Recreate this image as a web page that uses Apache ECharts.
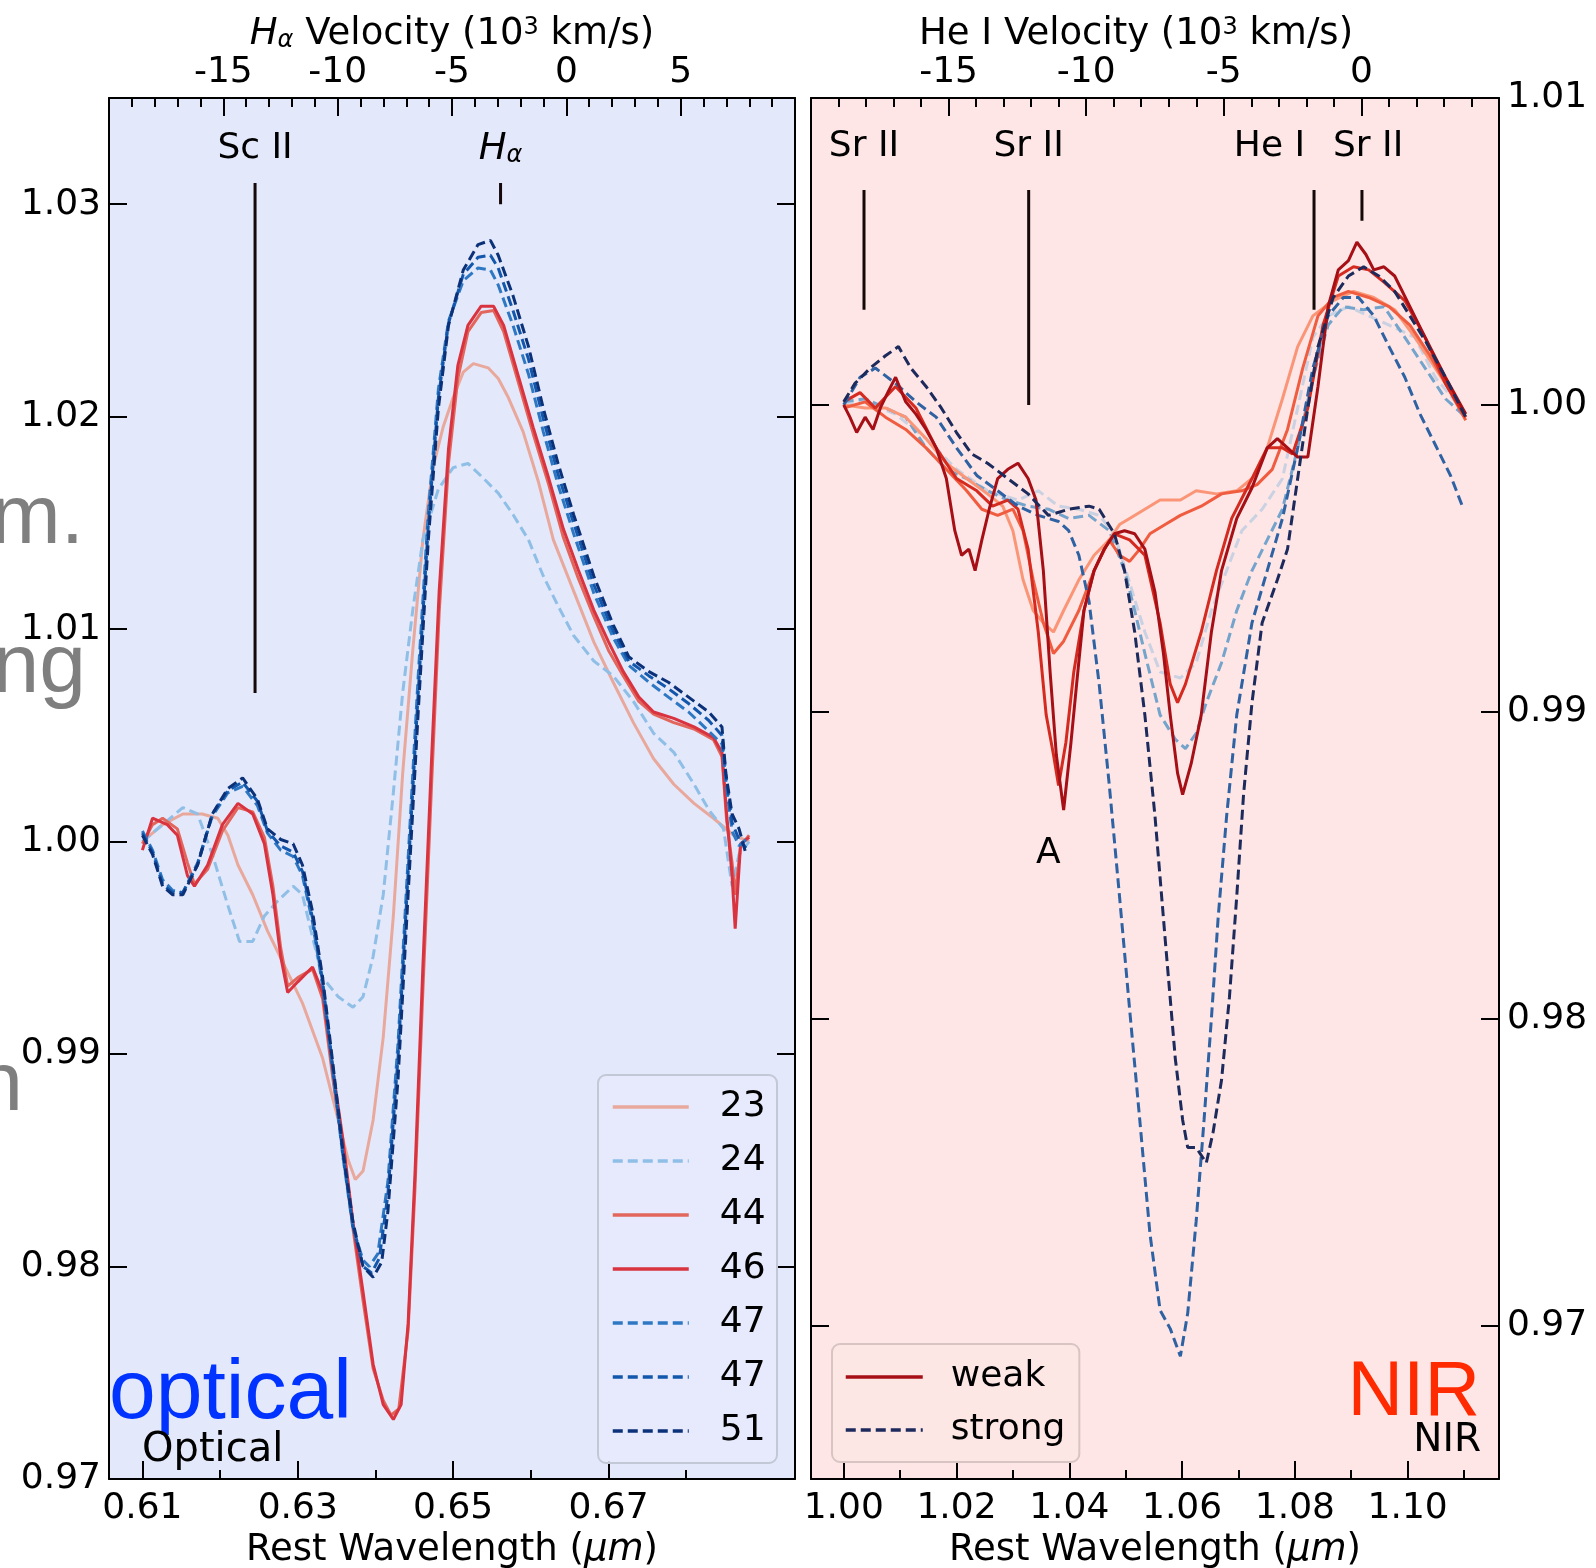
<!DOCTYPE html>
<html>
<head>
<meta charset="utf-8">
<title>Optical / NIR spectra</title>
<script src="https://cdn.jsdelivr.net/npm/echarts@6.0.0/dist/echarts.min.js"></script>
<style>
  html, body { margin: 0; padding: 0; background: #fff; }
  #main { width: 1596px; height: 1568px; }
</style>
</head>
<body>
<div id="main"></div>
<script>
// ---- optical panel (wavelength um, normalised flux) ----
const s23 = [[0.6100,1.0000],[0.6126,1.0008],[0.6152,1.0013],[0.6177,1.0013],[0.6197,1.0011],[0.6210,1.0003],[0.6223,0.9989],[0.6242,0.9975],[0.6261,0.9958],[0.6281,0.9943],[0.6306,0.9924],[0.6332,0.9898],[0.6352,0.9869],[0.6365,0.9850],[0.6374,0.9841],[0.6384,0.9845],[0.6397,0.9869],[0.6410,0.9908],[0.6423,0.9965],[0.6435,1.0032],[0.6448,1.0090],[0.6461,1.0142],[0.6474,1.0176],[0.6487,1.0195],[0.6500,1.0209],[0.6513,1.0221],[0.6526,1.0225],[0.6545,1.0223],[0.6558,1.0218],[0.6571,1.0209],[0.6590,1.0193],[0.6610,1.0169],[0.6629,1.0142],[0.6655,1.0118],[0.6681,1.0094],[0.6706,1.0075],[0.6732,1.0056],[0.6758,1.0039],[0.6784,1.0027],[0.6810,1.0018],[0.6835,1.0011],[0.6861,1.0003],[0.6881,1.0000]];
const s24 = [[0.6100,1.0000],[0.6126,1.0008],[0.6152,1.0016],[0.6171,1.0013],[0.6190,0.9994],[0.6210,0.9970],[0.6225,0.9953],[0.6242,0.9953],[0.6257,0.9965],[0.6274,0.9972],[0.6294,0.9979],[0.6306,0.9975],[0.6319,0.9955],[0.6332,0.9936],[0.6352,0.9927],[0.6371,0.9922],[0.6384,0.9927],[0.6397,0.9946],[0.6410,0.9975],[0.6423,1.0023],[0.6435,1.0070],[0.6448,1.0109],[0.6461,1.0142],[0.6481,1.0166],[0.6500,1.0176],[0.6519,1.0178],[0.6539,1.0171],[0.6558,1.0164],[0.6577,1.0154],[0.6597,1.0142],[0.6616,1.0125],[0.6635,1.0111],[0.6655,1.0097],[0.6681,1.0085],[0.6706,1.0078],[0.6732,1.0066],[0.6758,1.0051],[0.6784,1.0042],[0.6810,1.0027],[0.6829,1.0015],[0.6848,1.0006],[0.6859,0.9979],[0.6868,0.9994],[0.6881,1.0000]];
const s44 = [[0.6100,0.9999],[0.6113,1.0008],[0.6126,1.0011],[0.6145,1.0006],[0.6158,0.9990],[0.6167,0.9980],[0.6184,0.9987],[0.6203,1.0005],[0.6223,1.0016],[0.6242,1.0014],[0.6257,1.0002],[0.6268,0.9979],[0.6278,0.9950],[0.6287,0.9932],[0.6300,0.9936],[0.6319,0.9940],[0.6332,0.9926],[0.6345,0.9889],[0.6358,0.9855],[0.6371,0.9818],[0.6384,0.9784],[0.6397,0.9752],[0.6410,0.9737],[0.6420,0.9730],[0.6430,0.9733],[0.6442,0.9770],[0.6451,0.9838],[0.6461,0.9930],[0.6472,1.0025],[0.6482,1.0108],[0.6494,1.0178],[0.6506,1.0218],[0.6519,1.0240],[0.6536,1.0249],[0.6552,1.0250],[0.6565,1.0240],[0.6584,1.0216],[0.6603,1.0192],[0.6623,1.0168],[0.6642,1.0143],[0.6661,1.0124],[0.6681,1.0106],[0.6700,1.0090],[0.6719,1.0078],[0.6739,1.0066],[0.6758,1.0060],[0.6784,1.0056],[0.6810,1.0053],[0.6835,1.0048],[0.6846,1.0040],[0.6852,1.0010],[0.6859,0.9990],[0.6863,0.9975],[0.6870,0.9998],[0.6881,1.0003]];
const s46 = [[0.6100,0.9996],[0.6113,1.0011],[0.6132,1.0008],[0.6145,1.0003],[0.6158,0.9984],[0.6167,0.9979],[0.6184,0.9989],[0.6203,1.0008],[0.6223,1.0018],[0.6242,1.0013],[0.6257,0.9999],[0.6268,0.9975],[0.6278,0.9946],[0.6287,0.9929],[0.6300,0.9934],[0.6319,0.9941],[0.6332,0.9929],[0.6345,0.9893],[0.6358,0.9860],[0.6371,0.9821],[0.6384,0.9788],[0.6397,0.9754],[0.6410,0.9735],[0.6423,0.9728],[0.6433,0.9735],[0.6442,0.9773],[0.6451,0.9845],[0.6461,0.9941],[0.6472,1.0037],[0.6482,1.0118],[0.6494,1.0185],[0.6506,1.0224],[0.6519,1.0243],[0.6536,1.0252],[0.6552,1.0252],[0.6565,1.0243],[0.6584,1.0219],[0.6603,1.0195],[0.6623,1.0171],[0.6642,1.0147],[0.6661,1.0128],[0.6681,1.0109],[0.6700,1.0094],[0.6719,1.0080],[0.6739,1.0068],[0.6758,1.0061],[0.6784,1.0058],[0.6810,1.0054],[0.6835,1.0049],[0.6846,1.0042],[0.6852,1.0013],[0.6859,0.9984],[0.6863,0.9959],[0.6870,0.9999],[0.6881,1.0002]];
const s47a = [[0.6100,1.0005],[0.6113,0.9996],[0.6126,0.9982],[0.6139,0.9977],[0.6152,0.9976],[0.6171,0.9990],[0.6190,1.0012],[0.6210,1.0023],[0.6229,1.0026],[0.6248,1.0017],[0.6261,1.0004],[0.6278,0.9996],[0.6294,0.9993],[0.6306,0.9984],[0.6319,0.9962],[0.6332,0.9932],[0.6345,0.9892],[0.6358,0.9852],[0.6371,0.9818],[0.6384,0.9803],[0.6392,0.9800],[0.6403,0.9806],[0.6416,0.9840],[0.6429,0.9905],[0.6442,0.9992],[0.6455,1.0078],[0.6468,1.0155],[0.6481,1.0213],[0.6494,1.0245],[0.6513,1.0264],[0.6532,1.0270],[0.6548,1.0269],[0.6558,1.0262],[0.6577,1.0243],[0.6597,1.0220],[0.6616,1.0193],[0.6635,1.0168],[0.6655,1.0145],[0.6681,1.0117],[0.6706,1.0096],[0.6726,1.0083],[0.6752,1.0075],[0.6777,1.0068],[0.6803,1.0061],[0.6829,1.0052],[0.6846,1.0046],[0.6852,1.0025],[0.6859,1.0005],[0.6868,0.9998],[0.6877,1.0001]];
const s47b = [[0.6100,1.0004],[0.6113,0.9995],[0.6126,0.9980],[0.6139,0.9976],[0.6152,0.9976],[0.6171,0.9989],[0.6190,1.0013],[0.6210,1.0024],[0.6229,1.0028],[0.6248,1.0019],[0.6261,1.0005],[0.6278,0.9998],[0.6294,0.9995],[0.6306,0.9986],[0.6319,0.9964],[0.6332,0.9934],[0.6345,0.9894],[0.6358,0.9853],[0.6371,0.9819],[0.6384,0.9800],[0.6395,0.9797],[0.6405,0.9804],[0.6416,0.9834],[0.6429,0.9898],[0.6442,0.9985],[0.6455,1.0070],[0.6468,1.0149],[0.6481,1.0209],[0.6494,1.0244],[0.6513,1.0267],[0.6532,1.0275],[0.6548,1.0276],[0.6558,1.0270],[0.6577,1.0250],[0.6597,1.0227],[0.6616,1.0199],[0.6635,1.0173],[0.6655,1.0150],[0.6681,1.0121],[0.6706,1.0099],[0.6726,1.0085],[0.6752,1.0078],[0.6777,1.0072],[0.6803,1.0065],[0.6829,1.0057],[0.6846,1.0050],[0.6852,1.0028],[0.6859,1.0009],[0.6868,1.0001],[0.6877,0.9997]];
const s51 = [[0.6100,1.0003],[0.6113,0.9994],[0.6126,0.9979],[0.6139,0.9975],[0.6152,0.9975],[0.6171,0.9989],[0.6190,1.0013],[0.6210,1.0025],[0.6229,1.0030],[0.6248,1.0020],[0.6261,1.0006],[0.6278,1.0001],[0.6294,0.9999],[0.6306,0.9989],[0.6319,0.9967],[0.6332,0.9936],[0.6345,0.9896],[0.6358,0.9855],[0.6371,0.9821],[0.6384,0.9800],[0.6397,0.9795],[0.6408,0.9802],[0.6416,0.9826],[0.6429,0.9888],[0.6442,0.9975],[0.6455,1.0061],[0.6468,1.0142],[0.6481,1.0204],[0.6494,1.0243],[0.6513,1.0269],[0.6532,1.0281],[0.6548,1.0283],[0.6558,1.0276],[0.6577,1.0257],[0.6597,1.0233],[0.6616,1.0204],[0.6635,1.0178],[0.6655,1.0154],[0.6681,1.0125],[0.6706,1.0102],[0.6726,1.0087],[0.6752,1.0080],[0.6777,1.0075],[0.6803,1.0068],[0.6829,1.0061],[0.6846,1.0054],[0.6851,1.0032],[0.6859,1.0013],[0.6868,1.0006],[0.6877,0.9994]];

// ---- NIR panel ----
const wDark = [[1.0000,1.0000],[1.0011,0.9996],[1.0023,0.9991],[1.0038,0.9996],[1.0052,0.9992],[1.0065,0.9999],[1.0078,1.0004],[1.0092,1.0009],[1.0110,1.0001],[1.0128,0.9997],[1.0146,0.9992],[1.0164,0.9986],[1.0182,0.9976],[1.0197,0.9959],[1.0209,0.9951],[1.0222,0.9953],[1.0233,0.9946],[1.0245,0.9956],[1.0258,0.9966],[1.0273,0.9976],[1.0291,0.9979],[1.0309,0.9981],[1.0327,0.9976],[1.0341,0.9969],[1.0354,0.9946],[1.0366,0.9913],[1.0377,0.9886],[1.0390,0.9868],[1.0403,0.9890],[1.0413,0.9909],[1.0426,0.9933],[1.0444,0.9946],[1.0462,0.9953],[1.0480,0.9958],[1.0498,0.9959],[1.0516,0.9958],[1.0534,0.9953],[1.0552,0.9939],[1.0567,0.9919],[1.0579,0.9899],[1.0592,0.9880],[1.0601,0.9873],[1.0616,0.9883],[1.0634,0.9899],[1.0652,0.9926],[1.0670,0.9946],[1.0697,0.9963],[1.0724,0.9973],[1.0751,0.9986],[1.0769,0.9989],[1.0787,0.9986],[1.0805,0.9983],[1.0823,0.9983],[1.0841,1.0006],[1.0859,1.0032],[1.0877,1.0044],[1.0895,1.0047],[1.0910,1.0053],[1.0926,1.0049],[1.0940,1.0044],[1.0958,1.0045],[1.0977,1.0042],[1.1004,1.0032],[1.1031,1.0022],[1.1067,1.0009],[1.1103,0.9997]];
const wRed = [[1.0000,1.0001],[1.0029,1.0004],[1.0056,0.9999],[1.0092,1.0006],[1.0128,0.9999],[1.0164,0.9986],[1.0200,0.9976],[1.0236,0.9972],[1.0264,0.9967],[1.0291,0.9969],[1.0309,0.9966],[1.0327,0.9953],[1.0345,0.9926],[1.0359,0.9899],[1.0372,0.9886],[1.0381,0.9876],[1.0394,0.9890],[1.0408,0.9913],[1.0426,0.9933],[1.0444,0.9946],[1.0462,0.9953],[1.0480,0.9958],[1.0507,0.9956],[1.0534,0.9951],[1.0561,0.9929],[1.0579,0.9909],[1.0592,0.9903],[1.0606,0.9909],[1.0634,0.9926],[1.0661,0.9946],[1.0688,0.9963],[1.0724,0.9976],[1.0751,0.9986],[1.0778,0.9986],[1.0796,0.9984],[1.0823,0.9999],[1.0850,1.0026],[1.0877,1.0042],[1.0904,1.0045],[1.0931,1.0044],[1.0958,1.0040],[1.0995,1.0034],[1.1031,1.0022],[1.1067,1.0007],[1.1103,0.9996]];
const wOrange = [[1.0000,0.9999],[1.0038,1.0001],[1.0074,0.9996],[1.0110,0.9992],[1.0146,0.9986],[1.0182,0.9979],[1.0218,0.9972],[1.0245,0.9966],[1.0273,0.9964],[1.0300,0.9966],[1.0318,0.9959],[1.0336,0.9943],[1.0354,0.9929],[1.0372,0.9919],[1.0390,0.9923],[1.0417,0.9933],[1.0444,0.9946],[1.0471,0.9956],[1.0489,0.9951],[1.0507,0.9949],[1.0525,0.9953],[1.0543,0.9958],[1.0570,0.9961],[1.0597,0.9964],[1.0634,0.9967],[1.0670,0.9971],[1.0706,0.9972],[1.0733,0.9974],[1.0760,0.9979],[1.0787,0.9992],[1.0814,1.0012],[1.0841,1.0029],[1.0868,1.0035],[1.0895,1.0037],[1.0931,1.0035],[1.0967,1.0032],[1.1004,1.0026],[1.1040,1.0016],[1.1076,1.0004],[1.1103,0.9995]];
const wLight = [[1.0000,1.0000],[1.0038,0.9999],[1.0074,0.9999],[1.0110,0.9996],[1.0146,0.9989],[1.0182,0.9981],[1.0218,0.9976],[1.0255,0.9971],[1.0282,0.9967],[1.0300,0.9959],[1.0318,0.9943],[1.0336,0.9933],[1.0354,0.9929],[1.0372,0.9926],[1.0390,0.9933],[1.0417,0.9943],[1.0444,0.9951],[1.0471,0.9956],[1.0489,0.9961],[1.0507,0.9963],[1.0534,0.9966],[1.0561,0.9969],[1.0597,0.9969],[1.0625,0.9972],[1.0661,0.9971],[1.0697,0.9972],[1.0724,0.9976],[1.0751,0.9986],[1.0778,1.0002],[1.0805,1.0019],[1.0832,1.0029],[1.0868,1.0034],[1.0904,1.0037],[1.0940,1.0035],[1.0977,1.0031],[1.1013,1.0022],[1.1049,1.0012],[1.1103,0.9997]];
const sNavy = [[1.0000,1.0001],[1.0020,1.0007],[1.0047,1.0012],[1.0074,1.0016],[1.0097,1.0019],[1.0119,1.0012],[1.0146,1.0006],[1.0173,0.9999],[1.0200,0.9991],[1.0227,0.9984],[1.0255,0.9981],[1.0291,0.9976],[1.0327,0.9971],[1.0363,0.9964],[1.0399,0.9966],[1.0435,0.9967],[1.0453,0.9966],[1.0480,0.9958],[1.0498,0.9946],[1.0516,0.9926],[1.0534,0.9899],[1.0552,0.9866],[1.0570,0.9826],[1.0588,0.9787],[1.0601,0.9767],[1.0610,0.9758],[1.0625,0.9758],[1.0643,0.9753],[1.0655,0.9763],[1.0670,0.9780],[1.0684,0.9807],[1.0697,0.9840],[1.0709,0.9873],[1.0724,0.9903],[1.0742,0.9929],[1.0769,0.9943],[1.0787,0.9953],[1.0805,0.9976],[1.0823,0.9999],[1.0841,1.0019],[1.0868,1.0035],[1.0895,1.0042],[1.0922,1.0045],[1.0949,1.0042],[1.0977,1.0037],[1.1004,1.0029],[1.1031,1.0021],[1.1067,1.0009],[1.1103,0.9996]];
const sBlue = [[1.0000,1.0000],[1.0029,1.0009],[1.0056,1.0012],[1.0092,1.0007],[1.0128,1.0001],[1.0164,0.9996],[1.0200,0.9986],[1.0236,0.9977],[1.0273,0.9972],[1.0309,0.9967],[1.0345,0.9964],[1.0381,0.9962],[1.0399,0.9959],[1.0417,0.9951],[1.0435,0.9936],[1.0453,0.9909],[1.0471,0.9876],[1.0489,0.9840],[1.0507,0.9803],[1.0525,0.9767],[1.0543,0.9730],[1.0561,0.9705],[1.0579,0.9699],[1.0597,0.9690],[1.0610,0.9704],[1.0625,0.9734],[1.0639,0.9767],[1.0652,0.9800],[1.0664,0.9833],[1.0679,0.9866],[1.0697,0.9899],[1.0724,0.9929],[1.0751,0.9946],[1.0778,0.9963],[1.0805,0.9986],[1.0832,1.0012],[1.0859,1.0029],[1.0886,1.0035],[1.0913,1.0035],[1.0940,1.0029],[1.0967,1.0019],[1.0995,1.0009],[1.1022,0.9997],[1.1049,0.9987],[1.1076,0.9977],[1.1097,0.9967]];
const sLight = [[1.0000,1.0001],[1.0038,1.0002],[1.0074,0.9999],[1.0110,0.9996],[1.0146,0.9986],[1.0182,0.9979],[1.0218,0.9976],[1.0255,0.9972],[1.0291,0.9969],[1.0327,0.9967],[1.0363,0.9966],[1.0399,0.9963],[1.0435,0.9964],[1.0471,0.9959],[1.0498,0.9946],[1.0516,0.9933],[1.0534,0.9919],[1.0561,0.9899],[1.0588,0.9891],[1.0606,0.9888],[1.0625,0.9893],[1.0643,0.9903],[1.0670,0.9916],[1.0697,0.9933],[1.0724,0.9946],[1.0751,0.9956],[1.0778,0.9966],[1.0805,0.9986],[1.0832,1.0009],[1.0859,1.0026],[1.0886,1.0032],[1.0922,1.0031],[1.0958,1.0032],[1.0995,1.0022],[1.1031,1.0012],[1.1067,1.0002],[1.1103,0.9996]];
const sPale = [[1.0000,1.0000],[1.0038,1.0001],[1.0092,0.9997],[1.0146,0.9989],[1.0200,0.9979],[1.0255,0.9972],[1.0309,0.9969],[1.0345,0.9972],[1.0381,0.9967],[1.0417,0.9966],[1.0453,0.9964],[1.0480,0.9958],[1.0507,0.9942],[1.0534,0.9926],[1.0561,0.9913],[1.0597,0.9911],[1.0625,0.9916],[1.0652,0.9933],[1.0679,0.9946],[1.0706,0.9959],[1.0742,0.9966],[1.0778,0.9976],[1.0805,0.9999],[1.0832,1.0022],[1.0859,1.0029],[1.0895,1.0032],[1.0931,1.0029],[1.0967,1.0026],[1.1013,1.0022],[1.1049,1.0009],[1.1103,0.9997]];

// ticks
const optTicks = [0.61, 0.63, 0.65, 0.67];
const optMinor = [0.62, 0.64, 0.66, 0.68];
const optYTicks = [0.97, 0.98, 0.99, 1.00, 1.01, 1.02, 1.03];
const nirTicks = [1.00, 1.02, 1.04, 1.06, 1.08, 1.10];
const nirMinor = [1.01, 1.03, 1.05, 1.07, 1.09, 1.11];
const nirYTicks = [0.97, 0.98, 0.99, 1.00, 1.01];

// line identifications
const optLineNames = ['Sc II', 'H_alpha'];
const optLineWl = [0.6245, 0.6561];
const optLineTop = [1.0310, 1.0310];
const optLineBottom = [1.0070, 1.0300];
const optLabelFlux = 1.0326;
const nirLineNames = ['Sr II', 'Sr II', 'He I', 'Sr II'];
const nirLineWl = [1.0036, 1.0328, 1.0834, 1.0919];
const nirLabelWl = [1.0036, 1.0328, 1.0755, 1.0930];
const nirLineTop = [1.0070, 1.0070, 1.0070, 1.0070];
const nirLineBottom = [1.0031, 1.0000, 1.0031, 1.0060];
const nirLabelFlux = 1.0084;
const featureA = [1.0363, 0.98537];

const FONT = 'DejaVu Sans';
const chart = echarts.init(document.getElementById('main'));

const labelStyle = { fontSize: 36, fontFamily: FONT, color: '#000' };
const tickStyle = { color: '#000', width: 2 };
const lineAxis = { show: true, onZero: false, lineStyle: { color: '#000', width: 2 } };

function wlAxis (grid, min, max, ticks) {
  return {
    type: 'value', gridIndex: grid, position: 'bottom', min: min, max: max,
    axisLine: lineAxis,
    axisTick: { inside: true, length: 18, lineStyle: tickStyle, customValues: ticks },
    axisLabel: Object.assign({ margin: 12, customValues: ticks, formatter: v => v.toFixed(2) }, labelStyle),
    splitLine: { show: false }
  }
}
function minorAxis (grid, min, max, ticks) {
  return {
    type: 'value', gridIndex: grid, position: 'bottom', min: min, max: max,
    axisLine: { show: false },
    axisTick: { inside: true, length: 9, lineStyle: tickStyle, customValues: ticks },
    axisLabel: { show: false },
    splitLine: { show: false }
  }
}
function velAxis (grid, min, max) {
  return {
    type: 'value', gridIndex: grid, position: 'top', min: min, max: max, interval: 5,
    axisLine: lineAxis,
    axisTick: { inside: true, length: 18, lineStyle: tickStyle },
    minorTick: { show: true, splitNumber: 5, length: 9, lineStyle: tickStyle },
    axisLabel: Object.assign({ margin: 7, showMinLabel: false, showMaxLabel: false, formatter: v => String(v) }, labelStyle),
    splitLine: { show: false }
  }
}
function fluxAxis (grid, pos, min, max, ticks, labels) {
  return {
    type: 'value', gridIndex: grid, position: pos, min: min, max: max,
    axisLine: lineAxis,
    axisTick: { inside: true, length: 18, lineStyle: tickStyle, customValues: ticks },
    axisLabel: Object.assign({ show: labels, margin: 8, padding: [10, 0, 0, 0], customValues: ticks, formatter: v => v.toFixed(2) }, labelStyle),
    splitLine: { show: false }
  }
}

function curve (name, data, color, dashed, xi, yi, z) {
  return {
    type: 'line', name: name, data: data, xAxisIndex: xi, yAxisIndex: yi,
    symbol: 'none', smooth: false, silent: true, z: z || 3,
    itemStyle: { color: color },
    lineStyle: { color: color, width: 3, type: dashed ? [10, 5] : 'solid' }
  }
}
function marker (wl, top, bottom, xi, yi) {
  return {
    type: 'line', data: [[wl, top], [wl, bottom]], xAxisIndex: xi, yAxisIndex: yi,
    symbol: 'none', silent: true, z: 5,
    lineStyle: { color: '#140808', width: 3 }
  }
}

const series = [
  curve('23', s23, '#e9a89c', false, 0, 0),
  curve('24', s24, '#8fbfe6', true, 0, 0),
  curve('44', s44, '#e2665c', false, 0, 0),
  curve('46', s46, '#d8333f', false, 0, 0),
  curve('47', s47a, '#2e78c3', true, 0, 0),
  curve('47 ', s47b, '#1257ac', true, 0, 0),
  curve('51', s51, '#0b3179', true, 0, 0),
  curve('weak', wDark, '#a50f15', false, 3, 2, 4),
  curve('strong', sNavy, '#1c2a5c', true, 3, 2, 4),
  curve('strong', sPale, '#c9d1e2', true, 3, 2, 3),
  curve('strong', sLight, '#74a3cc', true, 3, 2, 3),
  curve('weak', wLight, '#fb9577', false, 3, 2, 3),
  curve('weak', wOrange, '#f05c3f', false, 3, 2, 3),
  curve('weak', wRed, '#d42a1f', false, 3, 2, 3),
  curve('strong', sBlue, '#2f62a2', true, 3, 2, 3)
];
for (let i = 0; i < optLineWl.length; i++) {
  series.push(marker(optLineWl[i], optLineTop[i], optLineBottom[i], 0, 0));
}
for (let i = 0; i < nirLineWl.length; i++) {
  series.push(marker(nirLineWl[i], nirLineTop[i], nirLineBottom[i], 3, 2));
}

const legendText = { fontSize: 36, fontFamily: FONT, color: '#000', lineHeight: 40 };

chart.setOption({
  animation: false,
  grid: [
    { left: 109, top: 98, width: 686, height: 1381, show: true, backgroundColor: '#e4e8fb', borderWidth: 0 },
    { left: 811, top: 98, width: 688, height: 1381, show: true, backgroundColor: '#fde6e5', borderWidth: 0 }
  ],
  xAxis: [
    wlAxis(0, 0.6057, 0.6940, optTicks),
    minorAxis(0, 0.6057, 0.6940, optMinor),
    velAxis(0, -20, 10),
    wlAxis(1, 0.9942, 1.1162, nirTicks),
    minorAxis(1, 0.9942, 1.1162, nirMinor),
    velAxis(1, -20, 5)
  ],
  yAxis: [
    fluxAxis(0, 'left', 0.97, 1.035, optYTicks, true),
    fluxAxis(0, 'right', 0.97, 1.035, optYTicks, false),
    fluxAxis(1, 'right', 0.965, 1.01, nirYTicks, true),
    fluxAxis(1, 'left', 0.965, 1.01, nirYTicks, false)
  ],
  legend: [
    {
      data: ['23', '24', '44', '46', '47', '47 ', '51'],
      orient: 'vertical', left: 598, top: 1075, selectedMode: false,
      itemWidth: 76, itemHeight: 2, itemGap: 14,
      padding: [12, 0, 12, 13],
      itemStyle: { opacity: 0 },
      lineStyle: { width: 3.5 },
      backgroundColor: 'rgba(230,234,251,0.85)', borderColor: '#c3c8d6', borderWidth: 2, borderRadius: 8,
      textStyle: Object.assign({ padding: [0, 0, 0, 26] }, legendText)
    },
    {
      data: ['weak', 'strong'],
      orient: 'vertical', left: 832, top: 1344, selectedMode: false,
      itemWidth: 77, itemHeight: 2, itemGap: 13,
      padding: [13, 14, 12, 12],
      itemStyle: { opacity: 0 },
      lineStyle: { width: 3.5 },
      backgroundColor: 'rgba(253,230,229,0.85)', borderColor: '#d8c4c2', borderWidth: 2, borderRadius: 8,
      textStyle: Object.assign({ padding: [0, 0, 0, 23] }, legendText)
    }
  ],
  series: series
});

// text placed through the axes' own conversion
const toOpt = p => chart.convertToPixel({ xAxisIndex: 0, yAxisIndex: 0 }, p);
const toNir = p => chart.convertToPixel({ xAxisIndex: 3, yAxisIndex: 2 }, p);

const rich = {
  it: { fontSize: 37, fontFamily: FONT, fontStyle: 'italic', fill: '#000' },
  sub: { fontSize: 24, fontFamily: FONT, fontStyle: 'italic', fill: '#000', verticalAlign: 'bottom' },
  sup: { fontSize: 24, fontFamily: FONT, fill: '#000', verticalAlign: 'top' },
  n: { fontSize: 37, fontFamily: FONT, fill: '#000' }
};

function txt (x, y, text, opts) {
  return {
    type: 'text', z: 20, silent: true,
    style: Object.assign({
      x: x, y: y, text: text, fill: '#000',
      fontSize: 36, fontFamily: FONT, align: 'center', verticalAlign: 'middle'
    }, opts || {})
  }
}
// text whose baseline sits at y (top aligned, shifted by the font's ascent)
function base (x, y, text, size, family, color, align) {
  const asc = family === FONT ? 0.74 : 0.77;
  return txt(x, y - asc * size, text, { align: align, verticalAlign: 'top', fontSize: size, fontFamily: family, fill: color });
}

const graphics = [];
optLineNames.forEach((name, i) => {
  const p = toOpt([optLineWl[i], optLabelFlux]);
  if (name === 'H_alpha') {
    graphics.push(txt(p[0], p[1], '{it|H}{sub|α}', { rich: rich }));
  } else {
    graphics.push(txt(p[0], p[1], name));
  }
});
nirLineNames.forEach((name, i) => {
  const p = toNir([nirLabelWl[i], nirLabelFlux]);
  graphics.push(txt(p[0], p[1], name));
});
const pa = toNir(featureA);
graphics.push(txt(pa[0], pa[1], 'A'));

// axis titles
graphics.push(txt(452, 34, '{it|H}{sub|α}{n| Velocity (10}{sup|3}{n| km/s)}', { rich: rich }));
graphics.push(txt(1136, 34, '{n|He I Velocity (10}{sup|3}{n| km/s)}', { rich: rich }));
graphics.push(txt(452, 1550, '{n|Rest Wavelength (}{it|μm}{n|)}', { rich: rich }));
graphics.push(txt(1155, 1550, '{n|Rest Wavelength (}{it|μm}{n|)}', { rich: rich }));

// panel captions
graphics.push(base(109, 1418, 'optical', 84, 'Liberation Sans', '#0033ff', 'left'));
graphics.push(base(142, 1460, 'Optical', 40, FONT, '#000', 'left'));
graphics.push(base(1480, 1415, 'NIR', 77, 'Liberation Sans', '#ff2a00', 'right'));
graphics.push(base(1481, 1450, 'NIR', 39, FONT, '#000', 'right'));

// cut-off words on the left margin
graphics.push(base(84, 543, 'um.', 84, 'Liberation Sans', '#7f7f7f', 'right'));
graphics.push(base(86, 692, 'ong', 84, 'Liberation Sans', '#7f7f7f', 'right'));
graphics.push(base(23, 1110, 'on', 84, 'Liberation Sans', '#7f7f7f', 'right'));

chart.setOption({ graphic: graphics });
</script>
</body>
</html>
